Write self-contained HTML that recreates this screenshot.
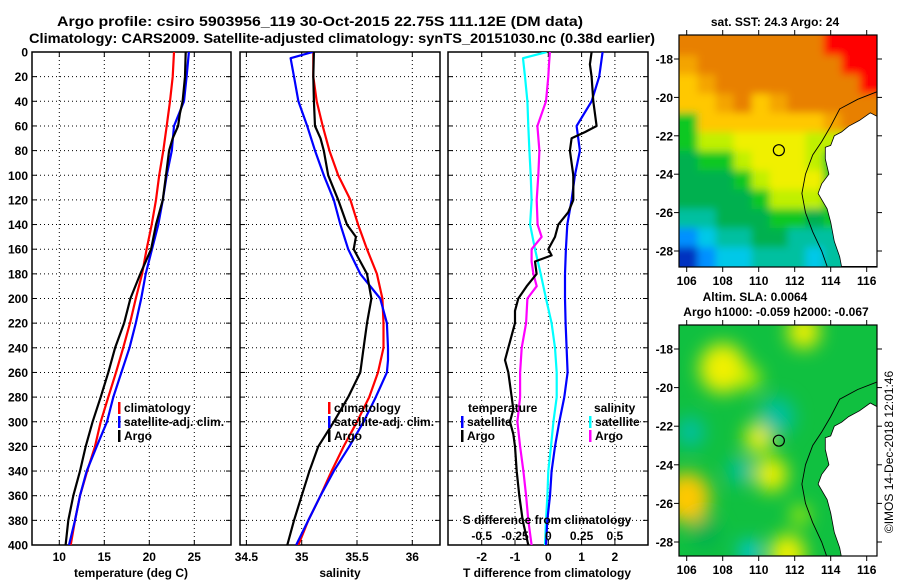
<!DOCTYPE html>
<html><head><meta charset="utf-8"><style>
html,body{margin:0;padding:0;background:#fff;}
svg{display:block;font-family:"Liberation Sans",sans-serif;}
.t{font-weight:bold;font-size:12px;fill:#000;}
</style></head><body>
<svg id="fig" width="900" height="580" viewBox="0 0 900 580" xmlns="http://www.w3.org/2000/svg">
<defs>
<filter id="blur" x="-20%" y="-20%" width="140%" height="140%"><feGaussianBlur stdDeviation="9"/></filter>
<filter id="blur2" x="-5%" y="-5%" width="110%" height="110%"><feGaussianBlur stdDeviation="4"/></filter>
<clipPath id="clip1"><rect x="32" y="52" width="199" height="493"/></clipPath>
<clipPath id="clip2"><rect x="240" y="52" width="200" height="493"/></clipPath>
<clipPath id="clip3"><rect x="448" y="52" width="200" height="493"/></clipPath>
<clipPath id="clipm1"><rect x="679" y="35" width="198" height="232"/></clipPath>
<clipPath id="clipm2"><rect x="679" y="325" width="198" height="231"/></clipPath>
</defs>
<text x="320" y="26" text-anchor="middle" style="font-weight:bold;font-size:14px" textLength="526" lengthAdjust="spacingAndGlyphs">Argo profile: csiro 5903956_119 30-Oct-2015 22.75S 111.12E (DM data)</text>
<text x="342" y="43" text-anchor="middle" style="font-weight:bold;font-size:14px" textLength="626" lengthAdjust="spacingAndGlyphs">Climatology: CARS2009. Satellite-adjusted climatology: synTS_20151030.nc (0.38d earlier)</text>
<g id="g1"></g>
<g id="g2"></g>
<g id="g3"></g>
<g id="m1"></g>
<g id="m2"></g>
<text x="775" y="26" text-anchor="middle" class="t">sat. SST: 24.3 Argo: 24</text>
<text x="755" y="301" text-anchor="middle" class="t">Altim. SLA: 0.0064</text>
<text x="776" y="316" text-anchor="middle" class="t">Argo h1000: -0.059 h2000: -0.067</text>
<text transform="translate(893,452) rotate(-90)" text-anchor="middle" style="font-size:12px">©IMOS 14-Dec-2018 12:01:46</text>
</svg>
<script>
// ---------- data ----------
const depthStd = [0,20,40,60,80,100,120,140,160,180,200,220,240,260,280,300,320,340,360,380,400];
const tempClim = [22.74,22.6,22.3,21.93,21.56,21.1,20.74,20.27,19.7,19.2,18.5,17.86,17.1,16.3,15.45,14.6,13.97,13.1,12.3,11.74,11.27];
const tempSat  = [24.4,24.15,23.86,22.74,22.5,21.93,21.5,21.0,20.3,19.6,19.1,18.5,17.8,16.9,16.0,15.3,14.15,13.04,12.3,11.74,11.08];
const depthArgoT = [0,20,40,50,60,70,80,100,120,140,160,170,180,200,220,240,260,280,300,320,340,360,380,400];
const tempArgo = [24.04,23.97,23.7,23.4,23.2,22.6,22.2,21.86,21.5,20.74,20.2,19.6,19.0,17.9,17.2,16.2,15.45,14.6,13.7,12.93,12.3,11.55,11.0,10.7];
const salClim = [35.105,35.105,35.136,35.19,35.25,35.33,35.44,35.51,35.59,35.68,35.73,35.74,35.74,35.69,35.61,35.5,35.38,35.27,35.17,35.06,34.97];
const depthSatS = [0,5,20,40,60,80,100,120,140,160,180,200,220,240,250,260,280,300,320,340,360,380,400];
const salSat = [35.1,34.9,34.93,34.97,35.05,35.12,35.2,35.29,35.35,35.42,35.53,35.71,35.77,35.78,35.78,35.77,35.67,35.56,35.43,35.29,35.17,35.06,34.95];
const depthArgoS = [0,20,40,60,70,80,100,120,140,150,160,170,180,190,200,220,240,260,280,300,320,340,360,380,400];
const salArgo = [35.11,35.105,35.11,35.12,35.17,35.2,35.24,35.33,35.41,35.49,35.47,35.53,35.59,35.61,35.63,35.59,35.56,35.53,35.42,35.29,35.15,35.07,35.0,34.93,34.87];
const depthDiffS = [0,5,20,40,60,80,100,120,140,160,180,200,220,240,260,280,300,320,340,360,380,400];
const sDiffSat = [-0.012,-0.19,-0.175,-0.157,-0.15,-0.142,-0.132,-0.125,-0.137,-0.1,-0.057,-0.017,0.025,0.05,0.063,0.063,0.038,0.02,0,-0.007,-0.017,-0.025];
const depthDiffSA = [0,10,20,40,60,80,100,120,140,150,160,170,180,190,200,220,240,260,280,300,320,340,360,380,400];
const sDiffArgo = [0.012,0.005,0,-0.017,-0.082,-0.067,-0.075,-0.087,-0.08,-0.05,-0.125,-0.125,-0.112,-0.087,-0.157,-0.167,-0.2,-0.212,-0.212,-0.232,-0.212,-0.187,-0.167,-0.15,-0.125];
const tDiffSat = [1.63,1.53,1.3,0.85,0.95,0.8,0.7,0.57,0.53,0.5,0.5,0.52,0.55,0.58,0.48,0.33,0.2,0.1,0.05,-0.03,-0.07];
const depthDiffTA = [0,10,20,40,60,65,70,80,100,120,130,140,150,160,165,170,180,190,200,210,220,240,250,260,270,280,290,300,310,320,340,360,380,400];
const tDiffArgo = [1.3,1.25,1.3,1.35,1.45,1.1,0.7,0.65,0.75,0.75,0.6,0.3,0.2,0.0,0.1,-0.4,-0.35,-0.65,-0.9,-1.0,-1.0,-1.2,-1.3,-1.2,-1.15,-1.1,-1.05,-1.15,-1.05,-1.0,-0.95,-0.87,-0.77,-0.6];
const depthTicks = [0,20,40,60,80,100,120,140,160,180,200,220,240,260,280,300,320,340,360,380,400];
const tempTicks = [10,15,20,25];
const salTicks = [34.5,35,35.5,36];
const salTickLabels = ["34.5","35","35.5","36"];
const tDiffTicks = [-2,-1,0,1,2];
const sDiffTicks = [-0.5,-0.25,0,0.25,0.5];
const sDiffTickLabels = ["-0.5","-0.25","0","0.25","0.5"];
// SST grid (rows lat -16.8..-28.8, cols lon 105.6..116.6)
const sstRows = [
"OOOOOOOORRR",
"oOOOOOOOORR",
"YoOOOOOOOOR",
"YYoOYoOOOOO",
"GYYYYYYYoOO",
"GLLyyyyLLLL",
"gGGLyyyLGGG",
"gggGLyyyGGG",
"ggggGLLLGGG",
"TTgggGGgGGG",
"BCTTggTTTTT",
"DBCCTTTCTTT"];
const lonTicks = [106,108,110,112,114,116];
const latTicks = [-18,-20,-22,-24,-26,-28];
// SLA blobs: lon, lat, radius(deg), colour code
const slaBlobLon = [108,110.7,110,106,111,109,106.2,109.5,112.5,111.6,112.3,109.5,107];
const slaBlobLat = [-19,-24.5,-22.6,-25.7,-21.5,-24.3,-22.3,-28.5,-17.1,-28.6,-26.6,-19.5,-27.5];
const slaBlobR = [1.3,0.9,0.8,1.3,1.0,0.7,0.8,0.6,0.9,1.0,0.5,0.6,0.8];
const slaBlobC = ["y","y","y","Y","T","T","T","C","y","y","L","L","g"];
const coastLon = [116.6,116.2,115.6,115.0,114.6,114.2,114.0,113.7,113.7,113.9,113.5,113.3,113.8,114.0,114.2,114.5,114.6,116.6];
const coastLat = [-21.0,-20.8,-21.2,-21.5,-21.8,-22.0,-22.5,-22.6,-23.2,-24.0,-24.5,-25.0,-25.8,-26.5,-27.5,-28.3,-28.8,-28.8];
const isoLon = [116.6,115.5,114.5,114.0,113.5,113.0,112.6,112.4,112.6,113.0,113.5,113.8];
const isoLat = [-19.7,-20.1,-20.6,-21.5,-22.3,-23.0,-24.0,-25.0,-26.0,-27.0,-28.0,-28.8];
const argoLon = 111.12, argoLat = -22.75;

// ---------- helpers ----------
const NS="http://www.w3.org/2000/svg";
function mk(parent,tag,attrs){const e=document.createElementNS(NS,tag);for(const k in attrs)e.setAttribute(k,attrs[k]);parent.appendChild(e);return e;}
function lin(d0,d1,r0,r1){return v=>r0+(v-d0)*(r1-r0)/(d1-d0);}
const yD = lin(0,400,52,545);

function panel(g,x0,x1,xs,ticks,labels,clipId,drawYLabels){
  mk(g,'rect',{x:x0,y:52,width:x1-x0,height:493,fill:'#fff'});
  ticks.forEach((v,i)=>{
    const x=xs(v);
    const l=mk(g,'line',{x1:x,y1:52,x2:x,y2:545,stroke:'#000','stroke-width':1,'stroke-dasharray':'1,3'});
    
    
    mk(g,'line',{x1:x,y1:52,x2:x,y2:57,stroke:'#000'});
    mk(g,'line',{x1:x,y1:545,x2:x,y2:540,stroke:'#000'});
    if(labels){const t=mk(g,'text',{x:x,y:561,'text-anchor':'middle',class:'t'});t.textContent=labels[i];
      
      }
  });
  depthTicks.forEach(d=>{
    const y=yD(d);
    if(d>0&&d<400){const l=mk(g,'line',{x1:x0,y1:y,x2:x1,y2:y,stroke:'#000','stroke-width':1,'stroke-dasharray':'1,3'});
      
      }
    mk(g,'line',{x1:x0,y1:y,x2:x0+5,y2:y,stroke:'#000'});
    mk(g,'line',{x1:x1,y1:y,x2:x1-5,y2:y,stroke:'#000'});
    if(drawYLabels){const t=mk(g,'text',{x:x0-4,y:y+4.5,'text-anchor':'end',class:'t'});t.textContent=d;
      
      }
  });
  const b=mk(g,'rect',{x:x0,y:52,width:x1-x0,height:493,fill:'none',stroke:'#000','stroke-width':1.5});
  
  
}
function series(g,xs,depths,vals,color,name,clipId){
  const pts=vals.map((v,i)=>xs(v).toFixed(1)+','+yD(depths[i]).toFixed(1)).join(' ');
  const p=mk(g,'polyline',{points:pts,fill:'none',stroke:color,'stroke-width':2.2,'clip-path':'url(#'+clipId+')','stroke-linejoin':'round'});
  
  
}
function legend(g,x,y,color,label,name){
  mk(g,'rect',{x:x,y:y-10,width:2.5,height:12,fill:color});
  const t=mk(g,'text',{x:x+6,y:y,class:'t'});t.textContent=label;
  
  
}
function label(g,x,y,txt,name,anchor){
  const t=mk(g,'text',{x:x,y:y,'text-anchor':anchor||'middle',class:'t'});t.textContent=txt;
  
  
}

// ---------- panel 1 ----------
const g1=document.getElementById('g1');
const xT=lin(10,25,59.3,194.3);
panel(g1,32,231,xT,tempTicks,tempTicks.map(String),'clip1',true);
series(g1,xT,depthStd,tempClim,'#ff0000','temp-climatology-line','clip1');
series(g1,xT,depthStd,tempSat,'#0000ff','temp-satellite-line','clip1');
series(g1,xT,depthArgoT,tempArgo,'#000000','temp-argo-line','clip1');
legend(g1,118,412,'#ff0000','climatology','legend-climatology');
legend(g1,118,426,'#0000ff','satellite-adj. clim.','legend-satellite');
legend(g1,118,440,'#000000','Argo','legend-argo');
label(g1,131,577,'temperature (deg C)','x-axis-title-temperature');

// ---------- panel 2 ----------
const g2=document.getElementById('g2');
const xS=lin(35,36,301.7,412.3);
panel(g2,240,440,xS,salTicks,salTickLabels,'clip2',false);
series(g2,xS,depthStd,salClim,'#ff0000','sal-climatology-line','clip2');
series(g2,xS,depthSatS,salSat,'#0000ff','sal-satellite-line','clip2');
series(g2,xS,depthArgoS,salArgo,'#000000','sal-argo-line','clip2');
legend(g2,328,412,'#ff0000','climatology','legend-climatology-2');
legend(g2,328,426,'#0000ff','satellite-adj. clim.','legend-satellite-2');
legend(g2,328,440,'#000000','Argo','legend-argo-2');
label(g2,340,577,'salinity','x-axis-title-salinity');

// ---------- panel 3 ----------
const g3=document.getElementById('g3');
const xTd=lin(0,1,548.3,581.6);
const xSd=lin(0,0.25,548.3,581.6);
panel(g3,448,648,xTd,tDiffTicks,tDiffTicks.map(String),'clip3',false);
series(g3,xSd,depthDiffS,sDiffSat,'#00ffff','sdiff-satellite-line','clip3');
series(g3,xSd,depthDiffSA,sDiffArgo,'#ff00ff','sdiff-argo-line','clip3');
series(g3,xTd,depthStd,tDiffSat,'#0000ff','tdiff-satellite-line','clip3');
series(g3,xTd,depthDiffTA,tDiffArgo,'#000000','tdiff-argo-line','clip3');
label(g3,468,412,'temperature','legend-temperature-heading','start');
legend(g3,461,426,'#0000ff','satellite','legend-t-satellite');
legend(g3,461,440,'#000000','Argo','legend-t-argo');
label(g3,594,412,'salinity','legend-salinity-heading','start');
legend(g3,589,426,'#00ffff','satellite','legend-s-satellite');
legend(g3,589,440,'#ff00ff','Argo','legend-s-argo');
label(g3,547,524,'S difference from climatology','s-axis-title');
sDiffTicks.forEach((v,i)=>label(g3,xSd(v),540,sDiffTickLabels[i],'s-tick-label'));
label(g3,547,577,'T difference from climatology','t-axis-title');

// ---------- maps ----------
const cmap={R:'#ff0000',O:'#e88000',o:'#f4a400',Y:'#ffc800',y:'#f0f000',L:'#c0f000',G:'#10c820',g:'#00b050',T:'#00c0a0',C:'#00c8e8',B:'#0090ff',D:'#0030c0'};
function mapFrame(g,top,bottom,latTop,latPerDeg,clip,drawField){
  const xL=lin(106,116,686.7,866.7);
  const yL=v=>top+24+(-18-v)*latPerDeg;
  drawField(g,xL,yL,clip);
  const land=mk(g,'polygon',{points:coastLon.map((v,i)=>xL(v).toFixed(1)+','+yL(coastLat[i]).toFixed(1)).join(' ')+' '+xL(116.6)+','+yL(-21.0),fill:'#fff',stroke:'#000','stroke-width':0.8,'clip-path':'url(#'+clip+')'});
  
  
  const iso=mk(g,'polyline',{points:isoLon.map((v,i)=>xL(v).toFixed(1)+','+yL(isoLat[i]).toFixed(1)).join(' '),fill:'none',stroke:'#000','stroke-width':0.9,'clip-path':'url(#'+clip+')'});
  
  
  const c=mk(g,'circle',{cx:xL(argoLon),cy:yL(argoLat),r:5.5,fill:'none',stroke:'#000','stroke-width':1.2});
  
  
  const fr=mk(g,'rect',{x:679,y:top,width:198,height:bottom-top,fill:'none',stroke:'#000','stroke-width':1.2});
  
  
  lonTicks.forEach(v=>{const x=xL(v);
    mk(g,'line',{x1:x,y1:top,x2:x,y2:top-5,stroke:'#000'});
    mk(g,'line',{x1:x,y1:bottom,x2:x,y2:bottom+5,stroke:'#000'});
    label(g,x,bottom+18,String(v),'lon-tick-label');});
  latTicks.forEach(v=>{const y=yL(v);
    mk(g,'line',{x1:679,y1:y,x2:674,y2:y,stroke:'#000'});
    mk(g,'line',{x1:877,y1:y,x2:882,y2:y,stroke:'#000'});
    label(g,673,y+4.5,String(v),'lat-tick-label','end');});
}
mapFrame(document.getElementById('m1'),35,267,-16.75,19.2,'clipm1',(g,xL,yL,clip)=>{
  const cg=mk(g,'g',{'clip-path':'url(#'+clip+')'});
  const fg=mk(cg,'g',{filter:'url(#blur2)'});
  sstRows.forEach((row,r)=>{[...row].forEach((ch,c)=>{
    const x0=xL(105.6+c)-(c===0?15:0),y0=yL(-16.8-r)-(r===0?15:0);
    const cell=mk(fg,'rect',{x:x0.toFixed(1),y:y0.toFixed(1),width:18.5+(c===0||c===10?15:0),height:19.8+(r===0||r===11?15:0),fill:cmap[ch]});
    
    
  });});
});
mapFrame(document.getElementById('m2'),325,556,-16.75,19.3,'clipm2',(g,xL,yL,clip)=>{
  const fg=mk(g,'g',{'clip-path':'url(#'+clip+')'});
  mk(fg,'rect',{x:679,y:325,width:198,height:231,fill:'#10c040'});
  const bg=mk(fg,'g',{filter:'url(#blur)'});
  slaBlobLon.forEach((v,i)=>{
    const b=mk(bg,'ellipse',{cx:xL(v),cy:yL(slaBlobLat[i]),rx:slaBlobR[i]*18,ry:slaBlobR[i]*19.3,fill:cmap[slaBlobC[i]]});
    
    
  });
});
</script>
</body></html>
